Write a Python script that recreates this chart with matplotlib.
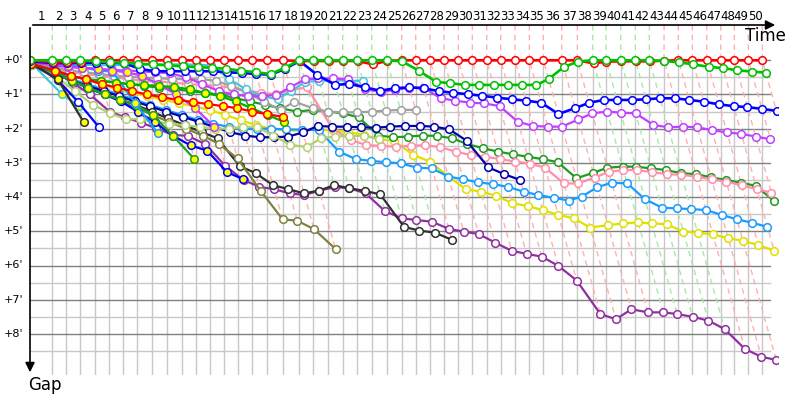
import numpy as np
import matplotlib
matplotlib.use("Agg")
import matplotlib.pyplot as plt
from matplotlib.transforms import blended_transform_factory

# ==========================================
# data: leader lap times (s) and gap to leader (min) per driver, lap 0..n
# ==========================================
lap_times = [139.7, 87.7, 87.7, 93.9, 87.7, 87.7, 87.7, 90.2, 93.9, 93.9,
             87.7, 89.6, 87.7, 87.7, 89.6, 90.2, 100.2, 104.0, 87.7, 93.9,
             90.2, 91.4, 90.2, 93.9, 93.9, 87.7, 89.6, 87.7, 89.6, 87.7,
             90.2, 87.7, 89.6, 89.6, 87.7, 115.2, 97.7, 96.4, 83.3, 92.1,
             91.4, 87.7, 92.1, 89.6, 87.7, 90.2, 87.7, 85.2, 87.7, 87.7]

gap_red = [0, 0.05, 0.05, 0.04] + [0] * 14 + [0.02, 0.02, 0.02, 0.02, 0.02, 0.12, 0.02, 0] + [0] * 12 \
    + [0.09, 0.04, 0.03, 0.03, 0.03, 0.01] + [0] * 7
gap_green = [0, 0, 0, 0, 0.03, 0.05, 0.07, 0.1, 0.12, 0.15, 0.18, 0.2, 0.22, 0.25, 0.3, 0.35, 0.4, 0.22,
             0, 0, 0, 0, 0, 0, 0, 0.03, 0.3, 0.63, 0.67, 0.72, 0.72, 0.72, 0.72, 0.72, 0.72, 0.55, 0.2, 0.04,
             0, 0, 0, 0, 0, 0.02, 0.06, 0.12, 0.19, 0.23, 0.29, 0.33, 0.36]
gap_blue = [0.03, 0.08, 0.08, 0.08, 0.07, 0.07, 0.08, 0.25, 0.32, 0.32, 0.32, 0.32, 0.32, 0.35, 0.37, 0.4,
            0.42, 0.25, 0.02, 0.43, 0.72, 0.69, 0.79, 0.89, 0.82, 0.79, 0.82, 0.9, 0.95, 0.99, 1.04, 1.09,
            1.14, 1.18, 1.24, 1.57, 1.4, 1.24, 1.16, 1.16, 1.16, 1.14, 1.11, 1.11, 1.16, 1.21, 1.29, 1.34,
            1.37, 1.42, 1.48]
gap_violet = [0.05, 0.15, 0.2, 0.22, 0.25, 0.28, 0.3, 0.32, 0.35, 0.38, 0.5, 0.7, 0.9, 1.0, 1.05, 1.05,
              1.01, 0.79, 0.56, 0.53, 0.53, 0.56, 0.85, 0.92, 0.87, 0.8, 0.8, 1.11, 1.18, 1.24, 1.26, 1.34,
              1.8, 1.92, 1.94, 1.94, 1.73, 1.55, 1.5, 1.53, 1.55, 1.89, 1.96, 1.94, 1.96, 2.04, 2.11, 2.15,
              2.23, 2.31]
gap_dkgreen = [0.1, 0.3, 0.45, 0.55, 0.6, 0.65, 0.7, 0.75, 0.8, 0.85, 0.9, 0.95, 1.0, 1.1, 1.2, 1.3, 1.4,
               1.5, 1.45, 1.5, 1.55, 1.67, 2.2, 2.25, 2.23, 2.2, 2.21, 2.28, 2.45, 2.57, 2.67, 2.75, 2.82,
               2.89, 2.98, 3.45, 3.29, 3.14, 3.11, 3.11, 3.16, 3.21, 3.3, 3.33, 3.42, 3.5, 3.58, 3.67, 4.11]
gap_pink = [0.1, 0.25, 0.35, 0.4, 0.45, 0.5, 0.55, 0.6, 0.62, 0.65, 0.7, 0.72, 0.75, 0.8, 0.88, 0.95, 0.99,
            0.87, 0.79, 1.99, 2.33, 2.48, 2.5, 2.53, 2.5, 2.48, 2.54, 2.67, 2.77, 2.82, 2.89, 2.96, 3.02,
            3.14, 3.6, 3.6, 3.43, 3.26, 3.21, 3.21, 3.27, 3.33, 3.35, 3.4, 3.48, 3.55, 3.65, 3.77, 3.87]
gap_ltblue = [0.1, 0.35, 0.55, 0.7, 0.85, 1.0, 1.15, 1.3, 1.45, 1.6, 1.75, 1.85, 1.95, 2.0, 2.0, 2.0, 2.02,
              2.03, 2.04, 2.67, 2.89, 2.94, 2.98, 3.01, 3.14, 3.16, 3.4, 3.48, 3.57, 3.62, 3.7, 3.84, 3.94,
              4.02, 4.1, 3.99, 3.71, 3.58, 3.6, 4.06, 4.31, 4.33, 4.35, 4.38, 4.52, 4.65, 4.75, 4.87]
gap_yellow = [0.1, 0.3, 0.45, 0.55, 0.7, 0.85, 0.95, 1.05, 1.15, 1.25, 1.35, 1.45, 1.6, 1.75, 1.9, 2.0,
              2.05, 2.05, 2.03, 2.05, 2.1, 2.18, 2.31, 2.35, 2.77, 2.96, 3.4, 3.77, 3.84, 3.96, 4.18, 4.26,
              4.38, 4.52, 4.62, 4.89, 4.82, 4.77, 4.74, 4.77, 4.79, 5.01, 5.04, 5.09, 5.2, 5.28, 5.4, 5.57]
gap_purple = [0.1, 0.35, 0.65, 1.0, 1.5, 1.67, 1.82, 1.99, 2.18, 2.21, 2.45, 3.09, 3.5, 3.7, 3.77, 3.89,
              3.94, 3.81, 3.71, 3.74, 3.89, 4.41, 4.62, 4.67, 4.72, 4.93, 5.01, 5.08, 5.33, 5.57, 5.66,
              5.74, 6.01, 6.44, 7.42, 7.57, 7.28, 7.37, 7.37, 7.42, 7.5, 7.61, 7.86, 8.44, 8.67, 8.76]
gap_navy = [0.12, 0.4, 0.6, 0.75, 0.9, 1.05, 1.2, 1.35, 1.5, 1.65, 1.8, 1.95, 2.1, 2.2, 2.25, 2.25, 2.23,
            2.11, 1.92, 1.94, 1.94, 1.96, 1.97, 1.94, 1.92, 1.92, 1.94, 2.02, 2.35, 3.13, 3.33, 3.5]
gap_gray = [0.08, 0.2, 0.3, 0.35, 0.4, 0.45, 0.48, 0.5, 0.52, 0.55, 0.55, 0.55, 0.6, 0.75, 0.95, 1.21,
            1.45, 1.21, 1.4, 1.5, 1.52, 1.52, 1.5, 1.47, 1.45, 1.45]
gap_cyan = [0.05, 0.1, 0.12, 0.13, 0.14, 0.14, 0.14, 0.13, 0.12, 0.12, 0.12, 0.13, 0.15, 0.55, 0.85, 1.05,
            1.14, 0.89, 0.63, 0.6, 0.58, 0.6, 0.6]
gap_black = [0.15, 0.4, 0.6, 0.8, 1.0, 1.15, 1.3, 1.5, 1.7, 1.9, 2.1, 2.28, 3.09, 3.3, 3.65, 3.77, 3.89,
             3.81, 3.65, 3.74, 3.82, 3.92, 4.87, 4.98, 5.04, 5.25]
gap_olive = [0.15, 0.4, 0.6, 0.8, 1.0, 1.2, 1.4, 1.6, 1.8, 2.0, 2.2, 2.45, 2.87, 3.81, 4.65, 4.69, 4.94, 5.52]
gap_ltgreen = [0.15, 0.5, 0.9, 1.3, 1.55, 1.72, 1.72, 1.8, 1.85, 1.9, 1.95, 2.0, 2.0, 1.95, 1.95, 2.2,
               2.48, 2.53, 2.28, 2.23, 2.21, 2.21, 2.3]
gap_red2 = [0.1, 0.3, 0.45, 0.55, 0.7, 0.8, 0.9, 1.0, 1.08, 1.16, 1.22, 1.28, 1.34, 1.4, 1.5, 1.58, 1.65]
gap_green2 = [0.1, 0.3, 0.45, 0.55, 0.6, 0.65, 0.7, 0.72, 0.75, 0.78, 0.85, 0.95, 1.05, 1.2, 1.4, 1.6, 1.8]
gap_green3 = [0.1, 0.35, 0.6, 0.8, 1.0, 1.15, 1.3, 1.6, 2.2, 2.89]
gap_blue2 = [0.1, 0.35, 0.6, 0.8, 1.0, 1.2, 1.5, 1.8, 2.2, 2.49, 2.64, 3.27, 3.48]
gap_ltblue2 = [0.05, 0.1, 0.15, 0.2, 0.3, 0.33, 1.26, 2.13]
gap_violet2 = [0.05, 0.12, 0.18, 0.22, 0.25, 0.3, 0.35, 0.45, 0.7, 1.0, 1.4, 1.94]
gap_cyan2 = [0.05, 0.99, 1.34]
gap_blue3 = [0.05, 0.58, 1.21, 1.96]
gap_black2 = [0.1, 0.55, 1.8]

# draw order: back to front (gaps, line colour, marker face, line width)
drivers = [
    (gap_purple, "#9030a0", "white", 1.6),
    (gap_yellow, "#e0e000", "white", 1.6),
    (gap_ltblue, "#1a9cff", "white", 1.6),
    (gap_dkgreen, "#209a20", "white", 1.6),
    (gap_pink, "#ff8fa8", "white", 1.6),
    (gap_navy, "#0000a8", "white", 1.6),
    (gap_black, "#303030", "white", 1.6),
    (gap_olive, "#808040", "white", 1.6),
    (gap_ltgreen, "#b0d070", "white", 1.6),
    (gap_gray, "#a0a0a0", "white", 1.6),
    (gap_cyan, "#40c8d8", "white", 1.6),
    (gap_violet, "#c040ff", "white", 1.6),
    (gap_blue2, "#0000ff", "#ffff00", 1.6),
    (gap_green3, "#20a020", "#ffff00", 1.6),
    (gap_ltblue2, "#1a9cff", "#ffff00", 1.6),
    (gap_violet2, "#c040ff", "#ffff00", 1.6),
    (gap_cyan2, "#40c8d8", "#ffff00", 1.6),
    (gap_blue3, "#0000ff", "white", 1.6),
    (gap_black2, "#303030", "#ffff00", 1.6),
    (gap_green2, "#00b000", "#ffff00", 1.6),
    (gap_red2, "#ff0000", "#ffff00", 1.6),
    (gap_blue, "#0000ff", "white", 1.9),
    (gap_red, "#ff0000", "white", 1.9),
    (gap_green, "#00c000", "white", 1.9),
]

# ==========================================
# layout
# ==========================================
X_SCALE = 9.58   # px per minute on x
Y_SCALE = 34.2   # px per minute on y
lap_end = np.concatenate([[0], np.cumsum(lap_times) / 60.0])  # leader time at end of each lap (min)
n_laps = len(lap_times)
y_top = (25 - 60.3) / Y_SCALE
y_bot = (375 - 60.3) / Y_SCALE
x_right = 748 / X_SCALE

fig = plt.figure(figsize=(8, 4), dpi=100)
ax = fig.add_axes([30 / 800, 25 / 400, 748 / 800, 350 / 400])
ax.set_xlim(0, x_right)
ax.set_ylim(y_bot, y_top)
ax.axis("off")

# horizontal grid
grid_right = (770 - 30) / X_SCALE
for g in np.arange(0.5, 9.0, 1.0):
    ax.plot([0, grid_right], [g, g], color="#c8c8c8", lw=1, zorder=1)
for g in range(0, 9):
    ax.plot([0, grid_right], [g, g], color="#808080", lw=1, zorder=1.1)
# vertical lap lines
for k in range(1, n_laps + 1):
    ax.plot([lap_end[k], lap_end[k]], [0, y_bot], color="#c8c8c8", lw=1, zorder=1)

# isochrone dashed lines, coloured by the lap leader
for k in range(1, n_laps + 1):
    gaps_k = [d[0][k] for d in drivers if len(d[0]) > k]
    gmax = max(gaps_k)
    lead = "#a8e8a8" if gap_green[k] < gap_red[k] else "#ffb0b0"
    ax.plot([lap_end[k], lap_end[k], lap_end[k] + gmax], [y_top, 0, gmax],
            color=lead, lw=1, dashes=(4, 3), zorder=1.5)

# driver lines
for i, (gaps, col, face, lw) in enumerate(drivers):
    g = np.array(gaps)
    x = lap_end[:len(g)] + g
    ax.plot(x, g, color=col, lw=lw, marker="o", ms=5.5, mfc=face, mec=col, mew=1.1,
            zorder=2 + i * 0.01)

# axes arrows
ax.annotate("", xy=(1, 1), xytext=(0, 1), xycoords="axes fraction",
            arrowprops=dict(arrowstyle="-|>", color="black", lw=1.2, mutation_scale=14))
ax.annotate("", xy=(0, 0), xytext=(0, 1), xycoords="axes fraction",
            arrowprops=dict(arrowstyle="-|>", color="black", lw=1.2, mutation_scale=14))

# lap numbers on top
trans_x = blended_transform_factory(ax.transData, ax.transAxes)
for k in range(1, n_laps + 1):
    ax.text((lap_end[k - 1] + lap_end[k]) / 2, 1 + 8 / 350, str(k), transform=trans_x,
            ha="center", va="center", fontsize=8.5, clip_on=False)

# gap labels on the left
trans_y = blended_transform_factory(ax.transAxes, ax.transData)
for g in range(0, 9):
    ax.text(-16 / 748, g, "+%d'" % g, transform=trans_y, ha="center", va="center",
            fontsize=8, clip_on=False)

fig.text(765 / 800, 1 - 36 / 400, "Time", ha="center", va="center", fontsize=12)
fig.text(45 / 800, 1 - 385 / 400, "Gap", ha="center", va="center", fontsize=12)

fig.savefig("out.png", dpi=100)
